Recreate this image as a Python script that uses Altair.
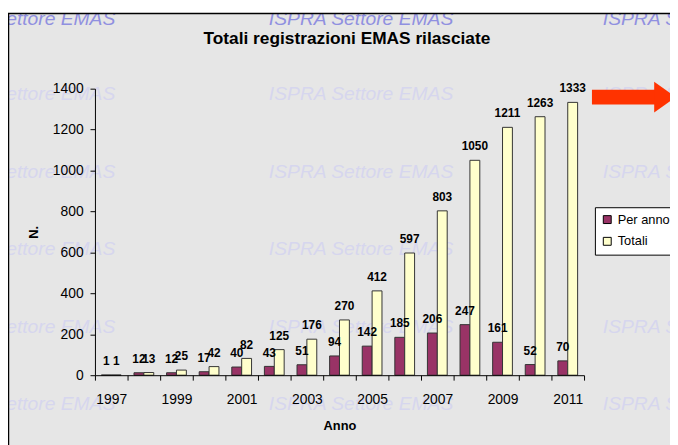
import altair as alt
import pandas as pd

# ---- data ----
years = ["1997", "1998", "1999", "2000", "2001", "2002", "2003", "2004",
         "2005", "2006", "2007", "2008", "2009", "2010", "2011"]
per_anno = [1, 12, 12, 17, 40, 43, 51, 94, 142, 185, 206, 247, 161, 52, 70]
totali = [1, 13, 25, 42, 82, 125, 176, 270, 412, 597, 803, 1050, 1211, 1263, 1333]
series = ["Per anno", "Totali"]
colors = ["#993366", "#FFFFCC"]
y_ticks = [0, 200, 400, 600, 800, 1000, 1200, 1400]
chart_title = "Totali registrazioni EMAS rilasciate"
x_title = "Anno"
y_title = "N."
watermark = "ISPRA Settore EMAS"

rows = []
for i, yr in enumerate(years):
    rows.append({"Anno": yr, "Serie": series[0], "N": per_anno[i]})
    rows.append({"Anno": yr, "Serie": series[1], "N": totali[i]})
df = pd.DataFrame(rows)

W, H = 495, 290
FONT = "Liberation Sans"
one = alt.Data(values=[{"k": 1}])

x_enc = alt.X(
    "Anno:N", sort=years,
    scale=alt.Scale(paddingInner=0, paddingOuter=0),
    axis=alt.Axis(
        title=x_title, labelAngle=0, tickBand="extent",
        labelExpr="toNumber(datum.value) % 2 == 1 ? datum.label : ''",
        labelFontSize=14, labelPadding=13, tickSize=5,
        titleFontSize=13, titleFontWeight="bold", titlePadding=13,
        domainColor="black", tickColor="black", labelColor="black",
        titleColor="black", zindex=1,
    ),
)
xo_enc = alt.XOffset("Serie:N", sort=series,
                     scale=alt.Scale(paddingInner=0, paddingOuter=0.65))
y_enc = alt.Y(
    "N:Q", scale=alt.Scale(domain=[0, 1400], nice=False),
    axis=alt.Axis(
        values=y_ticks, format="d", title=y_title, grid=False,
        labelFontSize=14, labelPadding=7, tickSize=5,
        titleFontSize=13, titleFontWeight="bold", titlePadding=12,
        domainColor="black", tickColor="black", labelColor="black",
        titleColor="black", zindex=1,
    ),
)

# gray background of the frame
frame_fill = alt.Chart(one).mark_rect(fill="#e6e6e6").encode(
    x=alt.value(-87.5), x2=alt.value(700), y=alt.value(-76), y2=alt.value(500)
)

# watermarks
wm_layers = []
wm_cols = [-166, 176, 514]
body_text = "\n".join([watermark] * 5)
for cx in wm_cols:
    wm_layers.append(
        alt.Chart(one).mark_text(
            text=body_text, lineBreak="\n", lineHeight=78.5, align="left",
            baseline="top", font=FONT, fontStyle="italic", fontSize=19.5,
            color="#d6d6ee",
        ).encode(x=alt.value(cx), y=alt.value(-3.5))
    )
    wm_layers.append(
        alt.Chart(one).mark_text(
            text=watermark, align="left", baseline="top", font=FONT,
            fontStyle="italic", fontSize=19.5, color="#9090e0",
        ).encode(x=alt.value(cx), y=alt.value(-79))
    )

# white strip above the frame and the frame border
top_strip = alt.Chart(one).mark_rect(fill="white").encode(
    x=alt.value(-100), x2=alt.value(700), y=alt.value(-90), y2=alt.value(-76)
)
frame_border = alt.Chart(one).mark_rect(fill=None, stroke="black", strokeWidth=1.5).encode(
    x=alt.value(-87.5), x2=alt.value(700), y=alt.value(-76), y2=alt.value(500)
)

# chart title as a text layer (kept at a fixed place in the frame)
title_layer = alt.Chart(one).mark_text(
    text=chart_title, fontSize=17.5, fontWeight="bold", font=FONT, color="black",
    align="center", baseline="middle",
).encode(x=alt.value(255), y=alt.value(-50))

bars = alt.Chart(df).mark_bar(stroke="#333333", strokeWidth=1).encode(
    x=x_enc, xOffset=xo_enc, y=y_enc,
    color=alt.Color(
        "Serie:N", sort=series,
        scale=alt.Scale(domain=series, range=colors),
        legend=alt.Legend(
            title=None, orient="none", legendX=506, legendY=120,
            fillColor="white", strokeColor="black", padding=6,
            symbolType="square", symbolSize=64, symbolStrokeColor="black",
            symbolStrokeWidth=1, labelFontSize=13, rowPadding=8,
            labelOffset=4, labelColor="black", labelFont=FONT,
        ),
    ),
)

labels = alt.Chart(df).mark_text(
    fontWeight="bold", fontSize=12, baseline="bottom", dy=-7, color="black", font=FONT
).encode(x=alt.X("Anno:N", sort=years), xOffset=alt.XOffset("Serie:N", sort=series),
         y="N:Q", text="N:Q")

# red arrow
arrow_body = alt.Chart(one).mark_rect(color="#ff3300").encode(
    x=alt.value(503), x2=alt.value(567), y=alt.value(1), y2=alt.value(16)
)
arrow_head = alt.Chart(one).mark_point(
    shape="M0,-1L1.42,0L0,1Z", filled=True, color="#ff3300", size=961, opacity=1,
    strokeWidth=0,
).encode(x=alt.value(566), y=alt.value(8.5))

chart = alt.layer(
    frame_fill, *wm_layers, top_strip, frame_border, title_layer,
    bars, labels, arrow_body, arrow_head
).properties(
    width=W, height=H,
    autosize=alt.AutoSizeParams(type="none"),
    padding={"left": 88, "top": 79, "right": 87, "bottom": 68},
).configure(font=FONT, background="white").configure_view(stroke=None)

chart.save("out.html", embed_options={"renderer": "svg", "actions": False})
